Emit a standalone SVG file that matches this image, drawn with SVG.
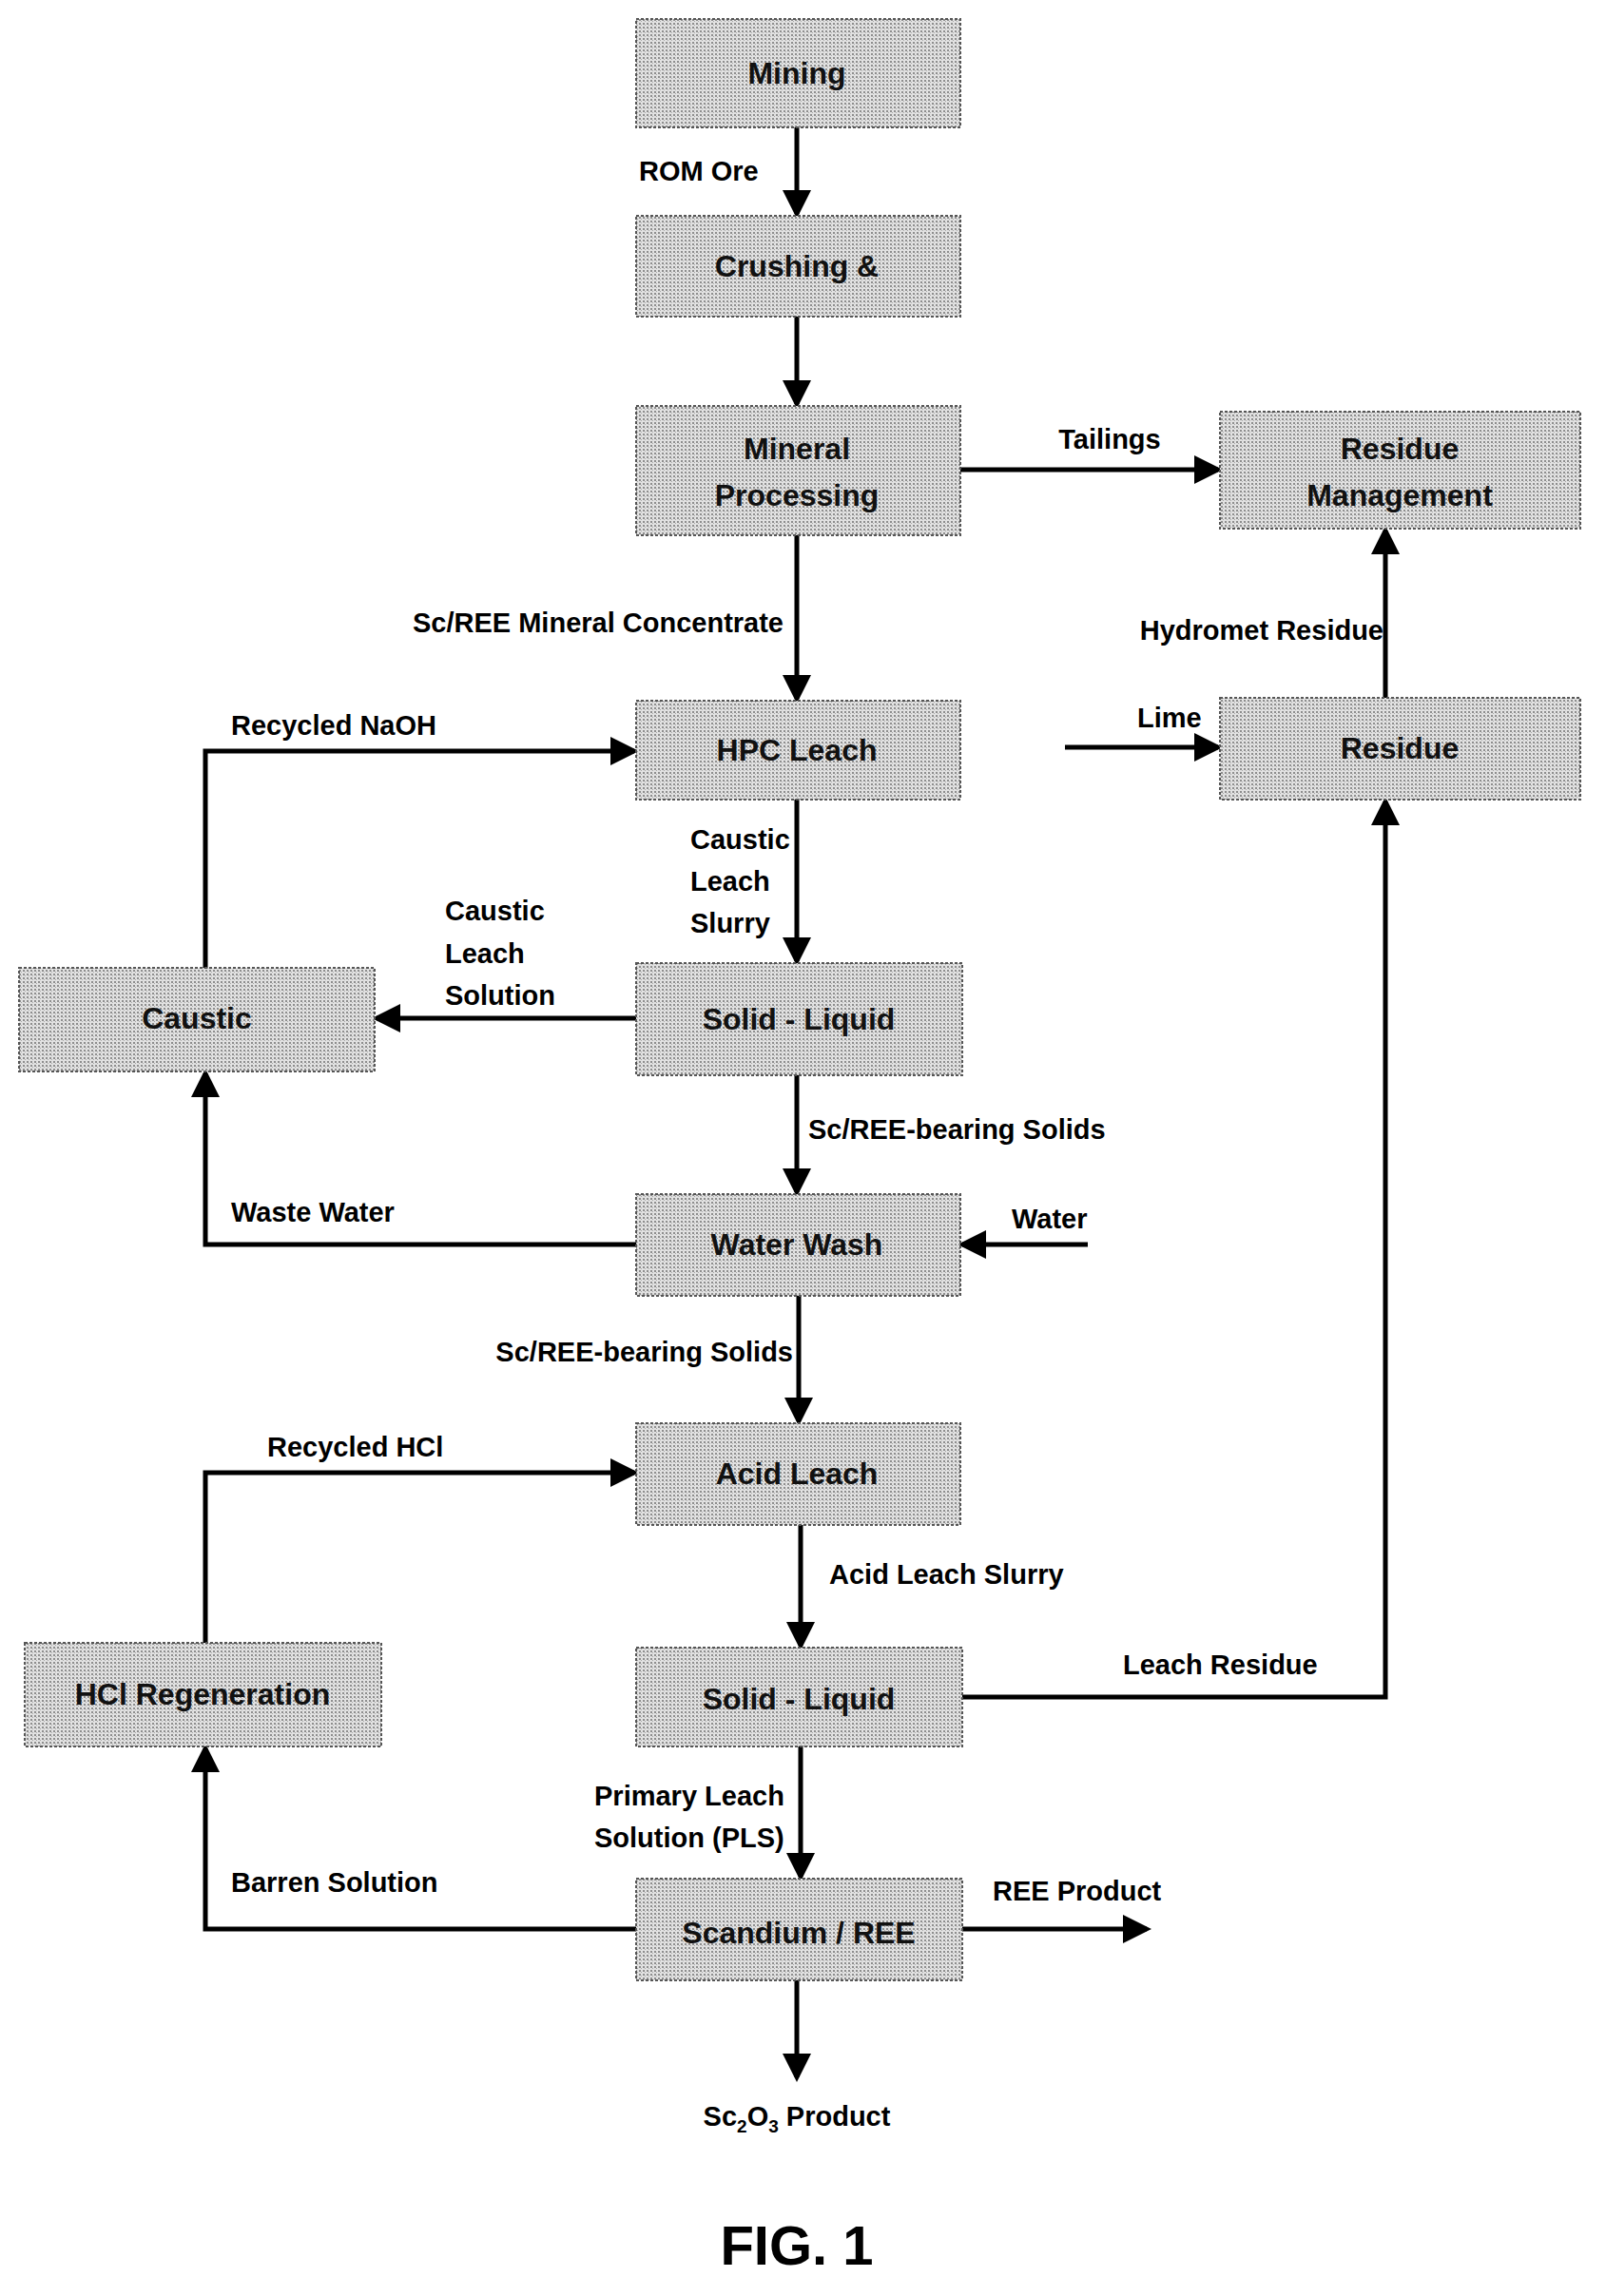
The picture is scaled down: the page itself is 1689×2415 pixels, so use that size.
<svg xmlns="http://www.w3.org/2000/svg" width="1689" height="2415" viewBox="0 0 1689 2415">
<style>
.box{fill:url(#dots);stroke:#555;stroke-width:2;stroke-dasharray:3 2}
.bl{font-family:"Liberation Sans",Arial,sans-serif;font-weight:bold;font-size:32px;text-anchor:middle;fill:#111}
.cl{font-family:"Liberation Sans",Arial,sans-serif;font-weight:bold;font-size:29px;fill:#000}
.ln{fill:none;stroke:#000;stroke-width:5}
</style>
<defs>
<pattern id="dots" width="4" height="4" patternUnits="userSpaceOnUse">
<rect width="4" height="4" fill="#e2e2e2"/>
<rect width="2" height="2" fill="#8e8e8e"/>
<rect x="2" y="2" width="1" height="1" fill="#a8a8a8"/>
</pattern>
<marker id="ah" markerWidth="6" markerHeight="6" refX="5" refY="3" orient="auto" markerUnits="strokeWidth">
<path d="M0,0 L6,3 L0,6 z" fill="#000"/>
</marker>
</defs>
<rect width="1689" height="2415" fill="#fff"/>
<g id="connectors" class="ln">
<path d="M838,134 V225" marker-end="url(#ah)"/>
<path d="M838,333 V425" marker-end="url(#ah)"/>
<path d="M838,563 V735" marker-end="url(#ah)"/>
<path d="M1010,494 H1281" marker-end="url(#ah)"/>
<path d="M1457,734 V558" marker-end="url(#ah)"/>
<path d="M1120,786 H1281" marker-end="url(#ah)"/>
<path d="M838,841 V1011" marker-end="url(#ah)"/>
<path d="M216,1018 V790 H667" marker-end="url(#ah)"/>
<path d="M669,1071 H396" marker-end="url(#ah)"/>
<path d="M838,1131 V1254" marker-end="url(#ah)"/>
<path d="M669,1309 H216 V1129" marker-end="url(#ah)"/>
<path d="M1144,1309 H1012" marker-end="url(#ah)"/>
<path d="M840,1363 V1495" marker-end="url(#ah)"/>
<path d="M216,1728 V1549 H667" marker-end="url(#ah)"/>
<path d="M842,1604 V1731" marker-end="url(#ah)"/>
<path d="M1012,1785 H1457 V843" marker-end="url(#ah)"/>
<path d="M842,1837 V1974" marker-end="url(#ah)"/>
<path d="M669,2029 H216 V1839" marker-end="url(#ah)"/>
<path d="M1012,2029 H1206" marker-end="url(#ah)"/>
<path d="M838,2083 V2185" marker-end="url(#ah)"/>
</g>
<g id="mining"><rect class="box" x="669" y="20" width="341" height="114"/><text class="bl" x="838" y="88">Mining</text></g>
<g id="crushing"><rect class="box" x="669" y="227" width="341" height="106"/><text class="bl" x="838" y="291">Crushing &amp;</text></g>
<g id="mineral"><rect class="box" x="669" y="427" width="341" height="136"/><text class="bl" x="838" y="483">Mineral</text><text class="bl" x="838" y="532">Processing</text></g>
<g id="resmgmt"><rect class="box" x="1283" y="433" width="379" height="123"/><text class="bl" x="1472" y="483">Residue</text><text class="bl" x="1472" y="532">Management</text></g>
<g id="hpc"><rect class="box" x="669" y="737" width="341" height="104"/><text class="bl" x="838" y="800">HPC Leach</text></g>
<g id="residue"><rect class="box" x="1283" y="734" width="379" height="107"/><text class="bl" x="1472" y="798">Residue</text></g>
<g id="caustic"><rect class="box" x="20" y="1018" width="374" height="109"/><text class="bl" x="207" y="1082">Caustic</text></g>
<g id="sl1"><rect class="box" x="669" y="1013" width="343" height="118"/><text class="bl" x="840" y="1083">Solid - Liquid</text></g>
<g id="wash"><rect class="box" x="669" y="1256" width="341" height="107"/><text class="bl" x="838" y="1320">Water Wash</text></g>
<g id="acid"><rect class="box" x="669" y="1497" width="341" height="107"/><text class="bl" x="838" y="1561">Acid Leach</text></g>
<g id="hcl"><rect class="box" x="26" y="1728" width="375" height="109"/><text class="bl" x="213" y="1793">HCl Regeneration</text></g>
<g id="sl2"><rect class="box" x="669" y="1733" width="343" height="104"/><text class="bl" x="840" y="1798">Solid - Liquid</text></g>
<g id="scandium"><rect class="box" x="669" y="1976" width="343" height="107"/><text class="bl" x="840" y="2044">Scandium / REE</text></g>
<g id="labels">
<text class="cl" x="672" y="190">ROM Ore</text>
<text class="cl" x="1167" y="472" text-anchor="middle">Tailings</text>
<text class="cl" x="824" y="665" text-anchor="end">Sc/REE Mineral Concentrate</text>
<text class="cl" x="1455" y="673" text-anchor="end">Hydromet Residue</text>
<text class="cl" x="243" y="773">Recycled NaOH</text>
<text class="cl" x="1196" y="765">Lime</text>
<text class="cl" x="726" y="893">Caustic</text>
<text class="cl" x="726" y="937">Leach</text>
<text class="cl" x="726" y="981">Slurry</text>
<text class="cl" x="468" y="968">Caustic</text>
<text class="cl" x="468" y="1013">Leach</text>
<text class="cl" x="468" y="1057">Solution</text>
<text class="cl" x="850" y="1198">Sc/REE-bearing Solids</text>
<text class="cl" x="243" y="1285">Waste Water</text>
<text class="cl" x="1064" y="1292">Water</text>
<text class="cl" x="834" y="1432" text-anchor="end">Sc/REE-bearing Solids</text>
<text class="cl" x="281" y="1532">Recycled HCl</text>
<text class="cl" x="872" y="1666">Acid Leach Slurry</text>
<text class="cl" x="1181" y="1761">Leach Residue</text>
<text class="cl" x="625" y="1899">Primary Leach</text>
<text class="cl" x="625" y="1943">Solution (PLS)</text>
<text class="cl" x="243" y="1990">Barren Solution</text>
<text class="cl" x="1044" y="1999">REE Product</text>
<text class="cl" x="838" y="2236" text-anchor="middle">Sc<tspan font-size="19" dy="7">2</tspan><tspan dy="-7">O</tspan><tspan font-size="19" dy="7">3</tspan><tspan dy="-7"> Product</tspan></text>
<text x="838" y="2382" text-anchor="middle" font-family="Liberation Sans,Arial,sans-serif" font-weight="bold" font-size="58">FIG. 1</text>
</g>
</svg>
